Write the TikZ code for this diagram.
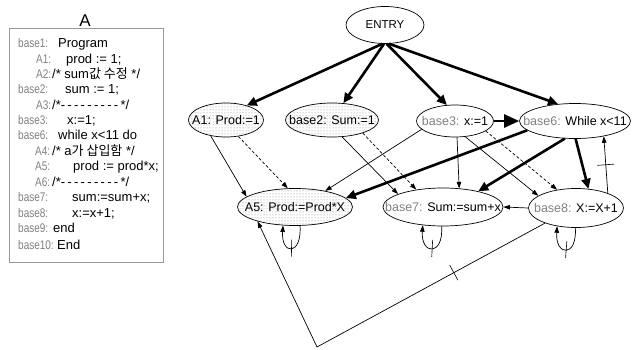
\documentclass[tikz,border=0pt]{standalone}
\usepackage{fontspec}
\setmainfont{Liberation Sans}
\newfontfamily\krfont{Noto Sans CJK KR}
\newfontfamily\lblfont[FakeStretch=0.8]{Liberation Sans}
\usetikzlibrary{shapes.geometric, arrows.meta, patterns}
\newcommand\glab[1]{\textcolor{gray}{#1}}
\newcommand\dashrow{/*\foreach \i in {1,...,9}{-\kern2.3pt}*/}
\begin{document}
\begin{tikzpicture}[x=1pt,y=-1pt,
  ell/.style={draw, ellipse, inner sep=0pt, line width=0.7pt, font=\fontsize{12.5}{14}\selectfont},
  dotfill/.style={pattern=dots, pattern color=gray},
  thickarr/.style={line width=2.6pt, -{Triangle[length=10pt,width=9pt]}},
  bigarr/.style={line width=2.6pt, -{Triangle[length=15pt,width=13pt]}},
  thinarr/.style={line width=0.7pt, -{Triangle[length=6.5pt,width=4.5pt]}},
  dsh/.style={dash pattern=on 3pt off 2pt},
  tickmark/.style={draw, rectangle, inner sep=0pt, minimum width=0pt, minimum height=17pt, line width=0.6pt, solid},
  codelbl/.style={anchor=base west, inner sep=0pt, text=gray, font=\lblfont\fontsize{12.5}{14}\selectfont},
  codetxt/.style={anchor=base west, inner sep=0pt, font=\fontsize{13}{15}\selectfont},
]
\useasboundingbox (0,0) rectangle (643,350);

% code panel
\node[draw=gray!80, line width=0.8pt, anchor=north west, minimum width=154pt, minimum height=234pt, inner sep=0pt] (panel) at (9,28) {};
\node[anchor=base, inner sep=0pt, font=\fontsize{17}{17}\selectfont] (title) at (85,27) {A};

\node[codelbl] (l1) at (18,48) {base1:};  \node[codetxt] (c1) at (58,48) {Program};
\node[codelbl] (l2) at (36,64) {A1:};     \node[codetxt] (c2) at (66,64) {prod := 1;};
\node[codelbl] (l3) at (36,79) {A2:};     \node[codetxt] (c3) at (52,79) {/* sum{\krfont 값 수정} */};
\node[codelbl] (l4) at (18,94) {base2:};  \node[codetxt] (c4) at (65,94) {sum := 1;};
\node[codelbl] (l5) at (36,110) {A3:};    \node[codetxt] (c5) at (52,110) {\dashrow};
\node[codelbl] (l6) at (18,125) {base3:}; \node[codetxt] (c6) at (67,125) {x:=1;};
\node[codelbl] (l7) at (18,140) {base6:}; \node[codetxt] (c7) at (58,140) {while x<11 do};
\node[codelbl] (l8) at (35,156) {A4:};    \node[codetxt] (c8) at (52,156) {/* a{\krfont 가 삽입함} */};
\node[codelbl] (l9) at (35,171) {A5:};    \node[codetxt] (c9) at (73,171) {prod := prod*x;};
\node[codelbl] (l10) at (35,187) {A6:};   \node[codetxt] (c10) at (52,187) {\dashrow};
\node[codelbl] (l11) at (18,202) {base7:};\node[codetxt] (c11) at (72,202) {sum:=sum+x;};
\node[codelbl] (l12) at (18,218) {base8:};\node[codetxt] (c12) at (72,218) {x:=x+1;};
\node[codelbl] (l13) at (18,233) {base9:};\node[codetxt] (c13) at (53,233) {end};
\node[codelbl] (l14) at (18,249) {base10:};\node[codetxt] (c14) at (57,249) {End};

% graph nodes
\node[ell, minimum width=78pt, minimum height=37pt, font=\fontsize{11.5}{13}\selectfont] (entry) at (385,25) {\makebox[0pt]{ENTRY}};
\node[ell, dotfill, minimum width=75pt, minimum height=34pt] (a1) at (226,120) {\makebox[0pt]{A1: Prod:=1}};
\node[ell, dotfill, minimum width=93pt, minimum height=34pt] (b2) at (332,120) {\makebox[0pt]{base2: Sum:=1}};
\node[ell, minimum width=77pt, minimum height=32pt] (b3) at (455,121) {\makebox[0pt]{\glab{base3:} x:=1}};
\node[ell, minimum width=111pt, minimum height=35pt] (b6) at (575,121) {\makebox[0pt]{\glab{base6:} While x<11}};
\node[ell, dotfill, minimum width=115pt, minimum height=37pt] (a5) at (295,207) {\makebox[0pt]{A5: Prod:=Prod*X}};
\node[ell, minimum width=120pt, minimum height=38pt] (b7) at (443,207) {\makebox[0pt]{\glab{base7:} Sum:=sum+x}};
\node[ell, minimum width=95pt, minimum height=39pt] (b8) at (576,208) {\makebox[0pt]{\glab{base8:} X:=X+1}};
\coordinate (bend) at (317,347);

% thick edges
\draw[thickarr] (entry.262) -- (a1.35);
\draw[thickarr] (entry.267) -- (b2.56);
\draw[thickarr] (entry.275) -- (b3.117);
\draw[thickarr] (entry.282) -- (b6.135);
\draw[bigarr] (b3.east) -- (b6.west);
\draw[thickarr] (b6.191) -- (a5.10);
\draw[thickarr] (b6.240) -- (b7.24);
\draw[thickarr] (b6.272) -- (b8.57);

% thin edges
\draw[thinarr] (b8.25) -- node[tickmark, sloped, pos=0.5] {} (b6.332);
\draw[thinarr] (b8.west) -- (b7.east);
\draw[thinarr] (a1.226) -- (a5.168);
\draw[thinarr, dsh] (a1.307) -- (a5.111);
\draw[thinarr] (b2.301) -- (b7.164);
\draw[thinarr, dsh] (b2.337) -- (b7.147);
\draw[thinarr] (b3.194) -- (a5.28);
\draw[thinarr] (b3.277) -- (b7.49);
\draw[thinarr] (b3.303) -- (b8.162);
\draw[thinarr, dsh] (b3.342) -- (b8.136);

% self loops
\draw[thinarr] (a5.285) .. controls +(2,30) and +(-2,30) .. node[tickmark, sloped, pos=0.5] {} (a5.237);
\draw[thinarr] (b7.266) .. controls +(2,30) and +(-2,30) .. node[tickmark, sloped, pos=0.5] {} (b7.222);
\draw[thinarr] (b8.268) .. controls +(2,30) and +(-2,30) .. node[tickmark, sloped, pos=0.5] {} (b8.224);

% back edge
\draw[thinarr] (b8.206) -- node[tickmark, sloped, pos=0.4] {} (bend) -- (a5.201);
\end{tikzpicture}
\end{document}
